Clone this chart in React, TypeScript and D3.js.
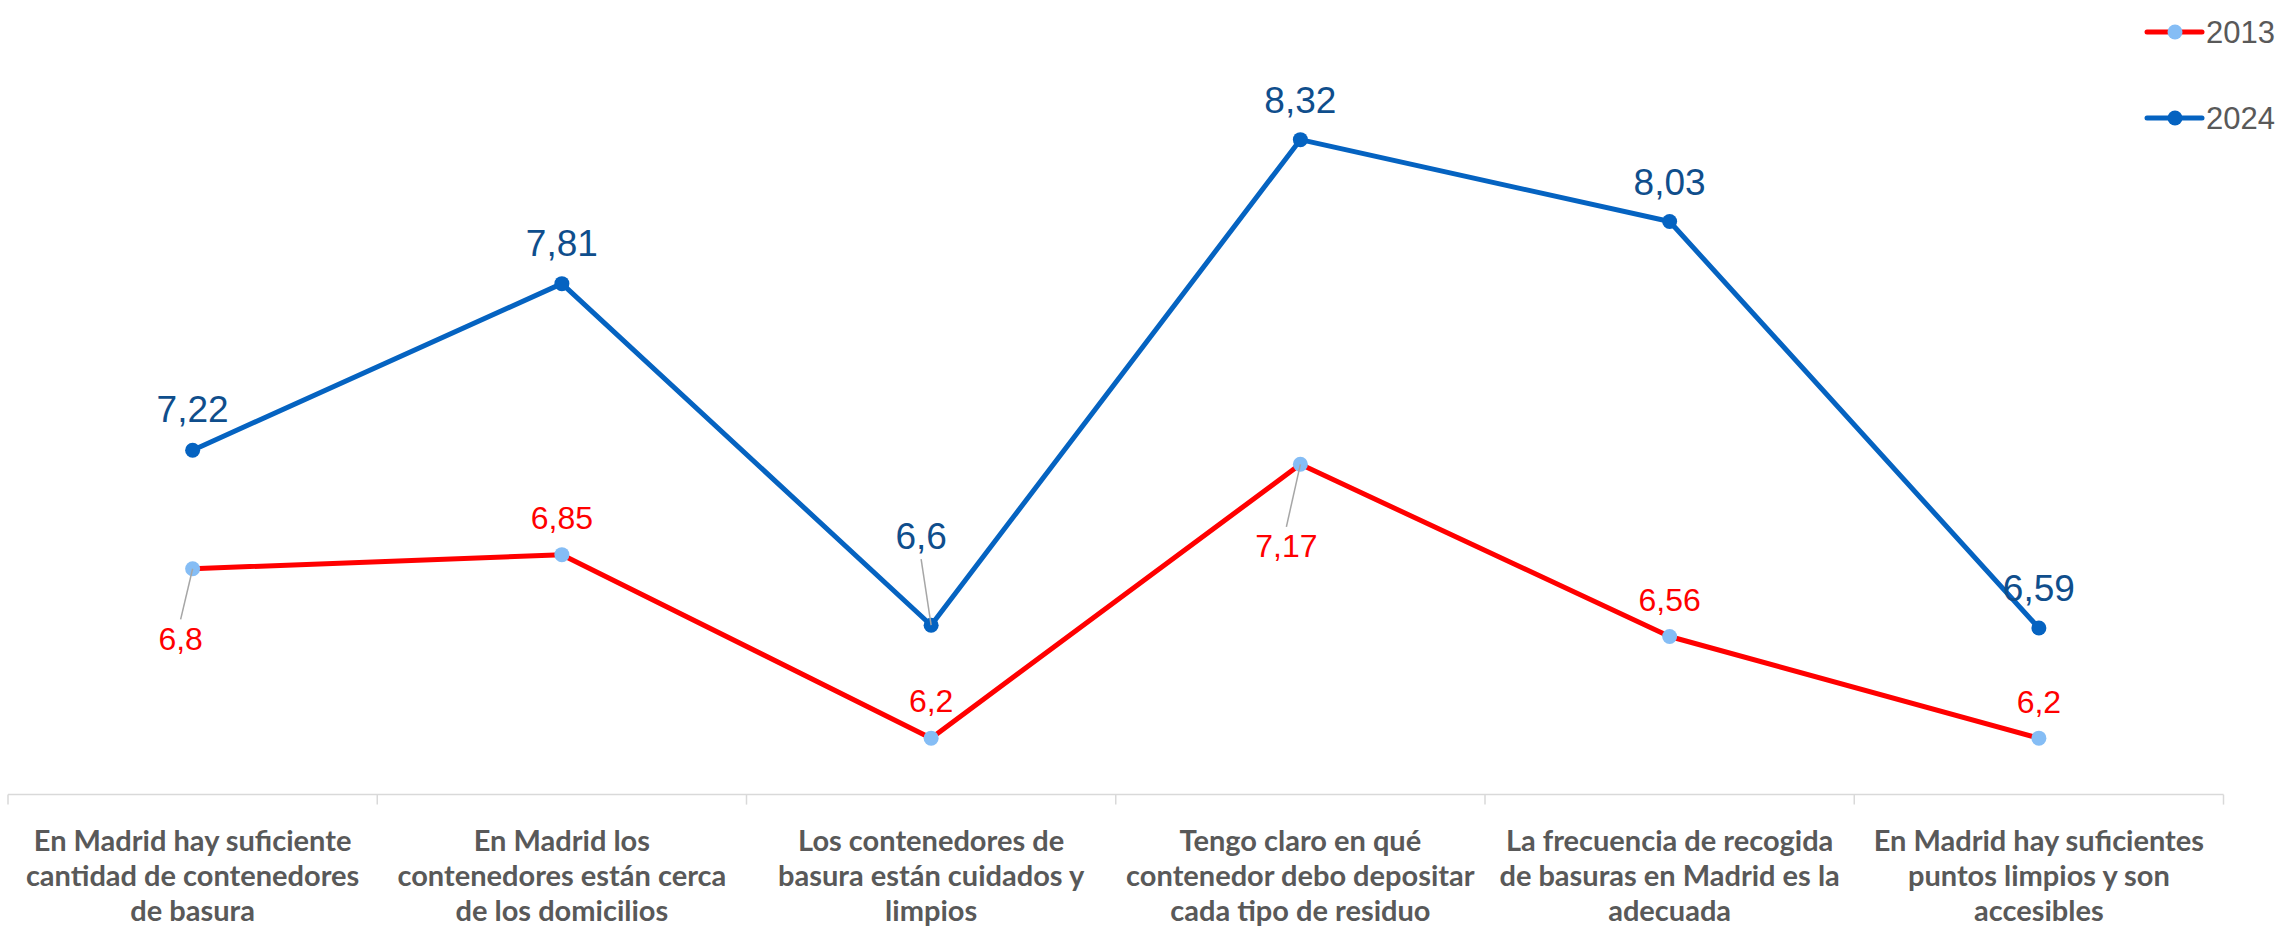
import React from "react";
import * as d3 from "d3";

const categories: string[][] = [
  ["En Madrid hay suficiente", "cantidad de contenedores", "de basura"],
  ["En Madrid los", "contenedores están cerca", "de los domicilios"],
  ["Los contenedores de", "basura están cuidados y", "limpios"],
  ["Tengo claro en qué", "contenedor debo depositar", "cada tipo de residuo"],
  ["La frecuencia de recogida", "de basuras en Madrid es la", "adecuada"],
  ["En Madrid hay suficientes", "puntos limpios y son", "accesibles"],
];
const series2013: number[] = [6.8, 6.85, 6.2, 7.17, 6.56, 6.2];
const series2024: number[] = [7.22, 7.81, 6.6, 8.32, 8.03, 6.59];
const seriesNames: string[] = ["2013", "2024"];

// label placement (dx, dy of baseline relative to point; leader line flag)
const place2013 = [
  { dx: -12, dy: 81, leader: true },
  { dx: 0, dy: -26, leader: false },
  { dx: 0, dy: -26, leader: false },
  { dx: -14, dy: 93, leader: true },
  { dx: 0, dy: -26, leader: false },
  { dx: 0, dy: -25, leader: false },
];
const place2024 = [
  { dx: 0, dy: -28, leader: false },
  { dx: 0, dy: -28, leader: false },
  { dx: -10, dy: -76, leader: true },
  { dx: 0, dy: -27, leader: false },
  { dx: 0, dy: -27, leader: false },
  { dx: 0, dy: -27, leader: false },
];

const W = 2279;
const H = 929;
const RED = "#FF0000";
const LIGHT = "#85BDF5";
const BLUE = "#0563C1";
const BLUE_TXT = "#0F4E8C";
const GRAY = "#595959";
const NUMFONT = "'Liberation Sans', Arial, sans-serif";

const fmt = (v: number) => String(v).replace(".", ",");

export default function App() {
  const keys = categories.map((_, i) => String(i));
  const x = d3.scaleBand<string>().domain(keys).range([8, 2223.5]);
  const y = d3.scaleLinear().domain([6, 8.5]).range([794.6, 88.85]);
  const cx = (i: number) => (x(String(i)) as number) + x.bandwidth() / 2;
  const line = d3
    .line<number>()
    .x((_, i) => cx(i))
    .y((d) => y(d));

  const yAxis = y(6);
  const tickXs = keys.map((k) => x(k) as number).concat([x.range()[1]]);

  const renderLabels = (
    vals: number[],
    place: { dx: number; dy: number; leader: boolean }[],
    color: string,
    size: number
  ) =>
    vals.map((v, i) => {
      const px = cx(i);
      const py = y(v);
      const p = place[i];
      const lx = px + p.dx;
      const ly = py + p.dy;
      let leaderEl = null;
      if (p.leader) {
        const below = p.dy > 0;
        const ey = below ? ly - size * 0.95 : ly + 10;
        leaderEl = (
          <line x1={px} y1={py} x2={lx} y2={ey} stroke="#A6A6A6" strokeWidth={1.5} />
        );
      }
      return (
        <g key={i}>
          {leaderEl}
          <text
            x={lx}
            y={ly}
            textAnchor="middle"
            fontFamily={NUMFONT}
            fontSize={size}
            fill={color}
          >
            {fmt(v)}
          </text>
        </g>
      );
    });

  return (
    <svg
      width={W}
      height={H}
      style={{ position: "absolute", left: 0, top: 0, background: "#fff" }}
    >
      {/* axis */}
      <line x1={tickXs[0]} x2={tickXs[tickXs.length - 1]} y1={yAxis} y2={yAxis} stroke="#D9D9D9" strokeWidth={1.5} />
      {tickXs.map((tx, i) => (
        <line key={i} x1={tx} x2={tx} y1={yAxis} y2={yAxis + 10} stroke="#D9D9D9" strokeWidth={1.5} />
      ))}
      {/* category labels */}
      {categories.map((lines, i) => (
        <text
          key={i}
          textAnchor="middle"
          fontFamily="Lato, 'Open Sans', sans-serif"
          fontWeight="bold"
          fontSize={29}
          fill={GRAY}
        >
          {lines.map((ln, j) => (
            <tspan key={j} x={cx(i)} y={851 + j * 35}>
              {ln}
            </tspan>
          ))}
        </text>
      ))}
      {/* lines */}
      <path d={line(series2013) || ""} fill="none" stroke={RED} strokeWidth={5} strokeLinejoin="round" />
      <path d={line(series2024) || ""} fill="none" stroke={BLUE} strokeWidth={5} strokeLinejoin="round" />
      {series2013.map((v, i) => (
        <circle key={"a" + i} cx={cx(i)} cy={y(v)} r={7.5} fill={LIGHT} />
      ))}
      {series2024.map((v, i) => (
        <circle key={"b" + i} cx={cx(i)} cy={y(v)} r={7.5} fill={BLUE} />
      ))}
      {renderLabels(series2013, place2013, RED, 32)}
      {renderLabels(series2024, place2024, BLUE_TXT, 37)}
      {/* legend */}
      {seriesNames.map((name, i) => {
        const ly = 32 + i * 86;
        const col = i === 0 ? RED : BLUE;
        const mk = i === 0 ? LIGHT : BLUE;
        return (
          <g key={name}>
            <line x1={2147} x2={2202} y1={ly} y2={ly} stroke={col} strokeWidth={5} strokeLinecap="round" />
            <circle cx={2175} cy={ly} r={7.5} fill={mk} />
            <text x={2206} y={ly + 11} fontFamily={NUMFONT} fontSize={31} fill={GRAY}>
              {name}
            </text>
          </g>
        );
      })}
    </svg>
  );
}
